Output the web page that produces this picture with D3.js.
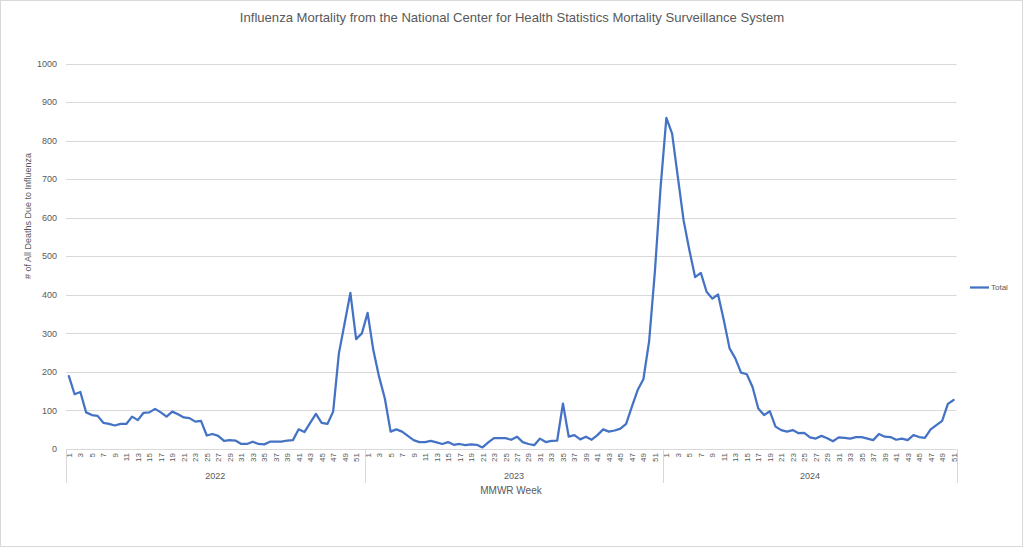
<!DOCTYPE html>
<html>
<head>
<meta charset="utf-8">
<script src="https://cdn.jsdelivr.net/npm/d3@7"></script>
<style>
  html, body { margin: 0; padding: 0; background: #fff; }
  svg { display: block; }
  text { font-family: "Liberation Sans", Arial, sans-serif; fill: #595959; }
</style>
</head>
<body>
<svg id="chart" width="1024" height="548"></svg>
<script>
// ---- Data ----
const years = ["2022", "2023", "2024"];
const deaths2022 = [189,142,148,95,88,86,68,65,61,65,65,84,75,94,95,104,95,84,97,90,82,80,71,73,35,39,34,21,23,22,13,13,19,13,12,19,19,19,22,23,51,44,68,91,68,65,97,248,326,405,285,300];
const deaths2023 = [353,256,187,131,45,51,45,34,23,18,18,21,17,13,18,11,13,10,12,11,4,17,28,28,28,24,32,18,13,10,27,18,21,22,118,32,36,25,32,24,36,51,45,48,53,65,110,153,181,280,460,680];
const deaths2024 = [859,818,705,593,516,446,457,408,390,401,334,261,235,198,194,161,105,88,98,58,49,45,49,41,42,30,27,34,28,20,30,29,27,31,31,27,23,39,32,31,24,27,23,36,31,29,51,62,73,117,127];
const yTicks = [0,100,200,300,400,500,600,700,800,900,1000];
const seriesName = "Total";
const title = "Influenza Mortality from the National Center for Health Statistics Mortality Surveillance System";
const yTitle = "# of All Deaths Due to Influenza";
const xTitle = "MMWR Week";

const series = [deaths2022, deaths2023, deaths2024];
const rows = [];
years.forEach((yr, i) => series[i].forEach((v, w) => rows.push({year: yr, week: w + 1, key: yr + "-" + (w + 1), value: v})));

// ---- Layout ----
const svg = d3.select("#chart");
const W = 1024, H = 548;
const plot = {left: 66, right: 956.5, top: 63.5, bottom: 449};
const gridColor = "#d9d9d9";
const lineColor = "#4472C4";

svg.append("rect").attr("x", 0.5).attr("y", 0.5).attr("width", W - 2).attr("height", H - 2)
  .attr("fill", "#fff").attr("stroke", gridColor);

const x = d3.scaleBand().domain(rows.map(d => d.key)).range([plot.left, plot.right]).paddingInner(0).paddingOuter(0);
const y = d3.scaleLinear().domain([0, 1000]).range([plot.bottom, plot.top]);

// gridlines
svg.append("g").selectAll("line").data(yTicks.filter(t => t > 0)).join("line")
  .attr("x1", plot.left).attr("x2", plot.right)
  .attr("y1", d => Math.round(y(d)) + 0.5).attr("y2", d => Math.round(y(d)) + 0.5)
  .attr("stroke", gridColor).attr("stroke-width", 1);

// y axis labels
svg.append("g").selectAll("text").data(yTicks).join("text")
  .attr("x", 57).attr("y", d => y(d)).attr("dy", "0.35em")
  .attr("text-anchor", "end").attr("font-size", 9).text(d => d);

// x axis line
svg.append("line").attr("x1", plot.left).attr("x2", plot.right)
  .attr("y1", plot.bottom + 0.5).attr("y2", plot.bottom + 0.5).attr("stroke", gridColor);

// group separators
const bounds = [];
years.forEach((yr, i) => { bounds.push(x(yr + "-1")); });
bounds.push(plot.right);
svg.append("g").selectAll("line").data(bounds).join("line")
  .attr("x1", d => Math.round(d) + 0.5).attr("x2", d => Math.round(d) + 0.5)
  .attr("y1", plot.bottom).attr("y2", 483).attr("stroke", gridColor);

// week tick labels (odd weeks)
svg.append("g").selectAll("text").data(rows.filter(d => d.week % 2 === 1)).join("text")
  .attr("transform", d => `translate(${x(d.key) + x.bandwidth() / 2 + 3},453) rotate(-90)`)
  .attr("text-anchor", "end").attr("font-size", 8).text(d => d.week);

// year labels
svg.append("g").selectAll("text").data(years).join("text")
  .attr("x", (d, i) => (bounds[i] + bounds[i + 1]) / 2).attr("y", 479)
  .attr("text-anchor", "middle").attr("font-size", 9).text(d => d);

// line
const line = d3.line().x(d => x(d.key) + x.bandwidth() / 2).y(d => y(d.value));
svg.append("path").datum(rows).attr("d", line)
  .attr("fill", "none").attr("stroke", lineColor).attr("stroke-width", 2.25)
  .attr("stroke-linejoin", "round").attr("stroke-linecap", "round");

// titles
svg.append("text").attr("x", 512).attr("y", 22).attr("text-anchor", "middle")
  .attr("font-size", 13.1).text(title);
svg.append("text").attr("transform", "translate(31,216) rotate(-90)").attr("text-anchor", "middle")
  .attr("font-size", 9).text(yTitle);
svg.append("text").attr("x", 511).attr("y", 494).attr("text-anchor", "middle")
  .attr("font-size", 10).text(xTitle);

// legend
svg.append("line").attr("x1", 970).attr("x2", 989).attr("y1", 287.5).attr("y2", 287.5)
  .attr("stroke", lineColor).attr("stroke-width", 2.25);
svg.append("text").attr("x", 991).attr("y", 287.5).attr("dy", "0.35em").attr("font-size", 8).text(seriesName);
</script>
</body>
</html>
